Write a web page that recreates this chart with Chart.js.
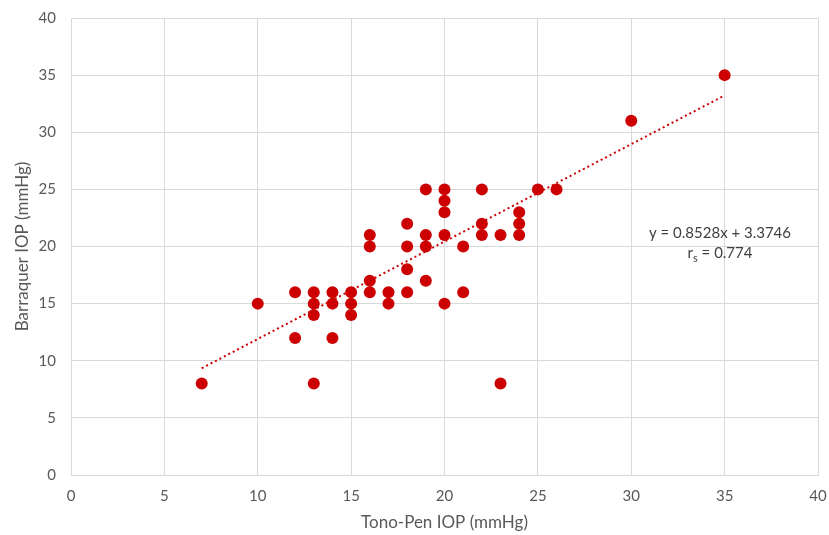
<!DOCTYPE html>
<html>
<head>
<meta charset="utf-8">
<script src="https://cdn.jsdelivr.net/npm/chart.js@4"></script>
<style>
  html, body { margin: 0; padding: 0; background: #fff; }
  #wrap { width: 829px; height: 535px; }
</style>
</head>
<body>
<div id="wrap"><canvas id="iopChart" width="829" height="535"></canvas></div>
<script>
// Tono-Pen readings (x) and matching Barraquer readings (y)
const tonoPen = [7, 10, 12, 12, 13, 13, 13, 13, 14, 14, 14, 15, 15, 15,
  16, 16, 16, 16, 17, 17, 18, 18, 18, 18, 19, 19, 19, 19,
  20, 20, 20, 20, 20, 21, 21, 22, 22, 22, 23, 23, 24, 24, 24,
  25, 26, 30, 35];
const barraquer = [8, 15, 16, 12, 16, 15, 14, 8, 16, 15, 12, 16, 15, 14,
  21, 20, 17, 16, 16, 15, 22, 20, 18, 16, 25, 21, 20, 17,
  25, 24, 23, 21, 15, 20, 16, 25, 22, 21, 21, 8, 23, 22, 21,
  25, 25, 31, 35];

// Linear fit shown on the chart
const fitSlope = 0.8528;
const fitIntercept = 3.3746;
const fitRange = [7, 35];
const fitLabel = 'y = 0.8528x + 3.3746';
const rsValue = '0.774';

const axisTicks = [0, 5, 10, 15, 20, 25, 30, 35, 40];

const red = '#CC0000';
const grey = '#595959';
const gridGrey = '#D9D9D9';
const fontFam = 'Lato, "Open Sans", sans-serif';

const points = tonoPen.map((x, i) => ({ x: x, y: barraquer[i] }));
const fitPoints = fitRange.map(x => ({ x: x, y: fitSlope * x + fitIntercept }));

// draws the equation and r_s text next to the trend line
const equationText = {
  id: 'equationText',
  afterDatasetsDraw(chart) {
    const ctx = chart.ctx;
    const cx = 720;
    ctx.save();
    ctx.fillStyle = '#404040';
    ctx.font = '15px ' + fontFam;
    ctx.textBaseline = 'middle';
    ctx.textAlign = 'center';
    ctx.fillText(fitLabel, cx, 233);
    // r with subscript s
    const rest = ' = ' + rsValue;
    const wR = ctx.measureText('r').width;
    ctx.font = '11px ' + fontFam;
    const wS = ctx.measureText('s').width;
    ctx.font = '15px ' + fontFam;
    const wRest = ctx.measureText(rest).width;
    let x = cx - (wR + wS + wRest) / 2;
    ctx.textAlign = 'left';
    ctx.fillText('r', x, 253);
    x += wR;
    ctx.font = '11px ' + fontFam;
    ctx.fillText('s', x, 258);
    x += wS;
    ctx.font = '15px ' + fontFam;
    ctx.fillText(rest, x, 253);
    ctx.restore();
  }
};

new Chart(document.getElementById('iopChart'), {
  type: 'scatter',
  data: {
    datasets: [
      {
        label: 'IOP',
        data: points,
        backgroundColor: red,
        borderColor: red,
        borderWidth: 0,
        pointRadius: 6,
        pointHoverRadius: 6,
        order: 1
      },
      {
        label: 'Linear fit',
        type: 'line',
        data: fitPoints,
        borderColor: red,
        borderWidth: 2,
        borderDash: [2, 3],
        pointRadius: 0,
        fill: false,
        order: 2
      }
    ]
  },
  options: {
    animation: false,
    responsive: false,
    layout: { padding: { top: 18, right: 11, left: 0, bottom: 0 } },
    plugins: {
      legend: { display: false },
      tooltip: { enabled: false }
    },
    scales: {
      x: {
        type: 'linear',
        min: 0,
        max: 40,
        afterBuildTicks: (scale) => { scale.ticks = axisTicks.map(v => ({ value: v })); },
        afterFit: (scale) => {
          scale.height = 60;
          scale.paddingLeft = 0;
          scale.paddingRight = 0;
        },
        grid: { color: gridGrey, lineWidth: 1, drawTicks: false },
        border: { color: gridGrey },
        ticks: { color: grey, font: { family: fontFam, size: 15 }, padding: 12 },
        title: {
          display: true,
          text: 'Tono-Pen IOP (mmHg)',
          color: grey,
          font: { family: fontFam, size: 17 },
          padding: { top: 4, bottom: 2 }
        }
      },
      y: {
        type: 'linear',
        min: 0,
        max: 40,
        afterBuildTicks: (scale) => { scale.ticks = axisTicks.map(v => ({ value: v })); },
        afterFit: (scale) => {
          scale.width = 71;
          scale.paddingTop = 0;
          scale.paddingBottom = 0;
        },
        grid: { color: gridGrey, lineWidth: 1, drawTicks: false },
        border: { color: gridGrey },
        ticks: { color: grey, font: { family: fontFam, size: 15 }, padding: 15 },
        title: {
          display: true,
          text: 'Barraquer IOP (mmHg)',
          color: grey,
          font: { family: fontFam, size: 17 },
          padding: { top: 12, bottom: 0 }
        }
      }
    }
  },
  plugins: [equationText]
});
</script>
</body>
</html>
